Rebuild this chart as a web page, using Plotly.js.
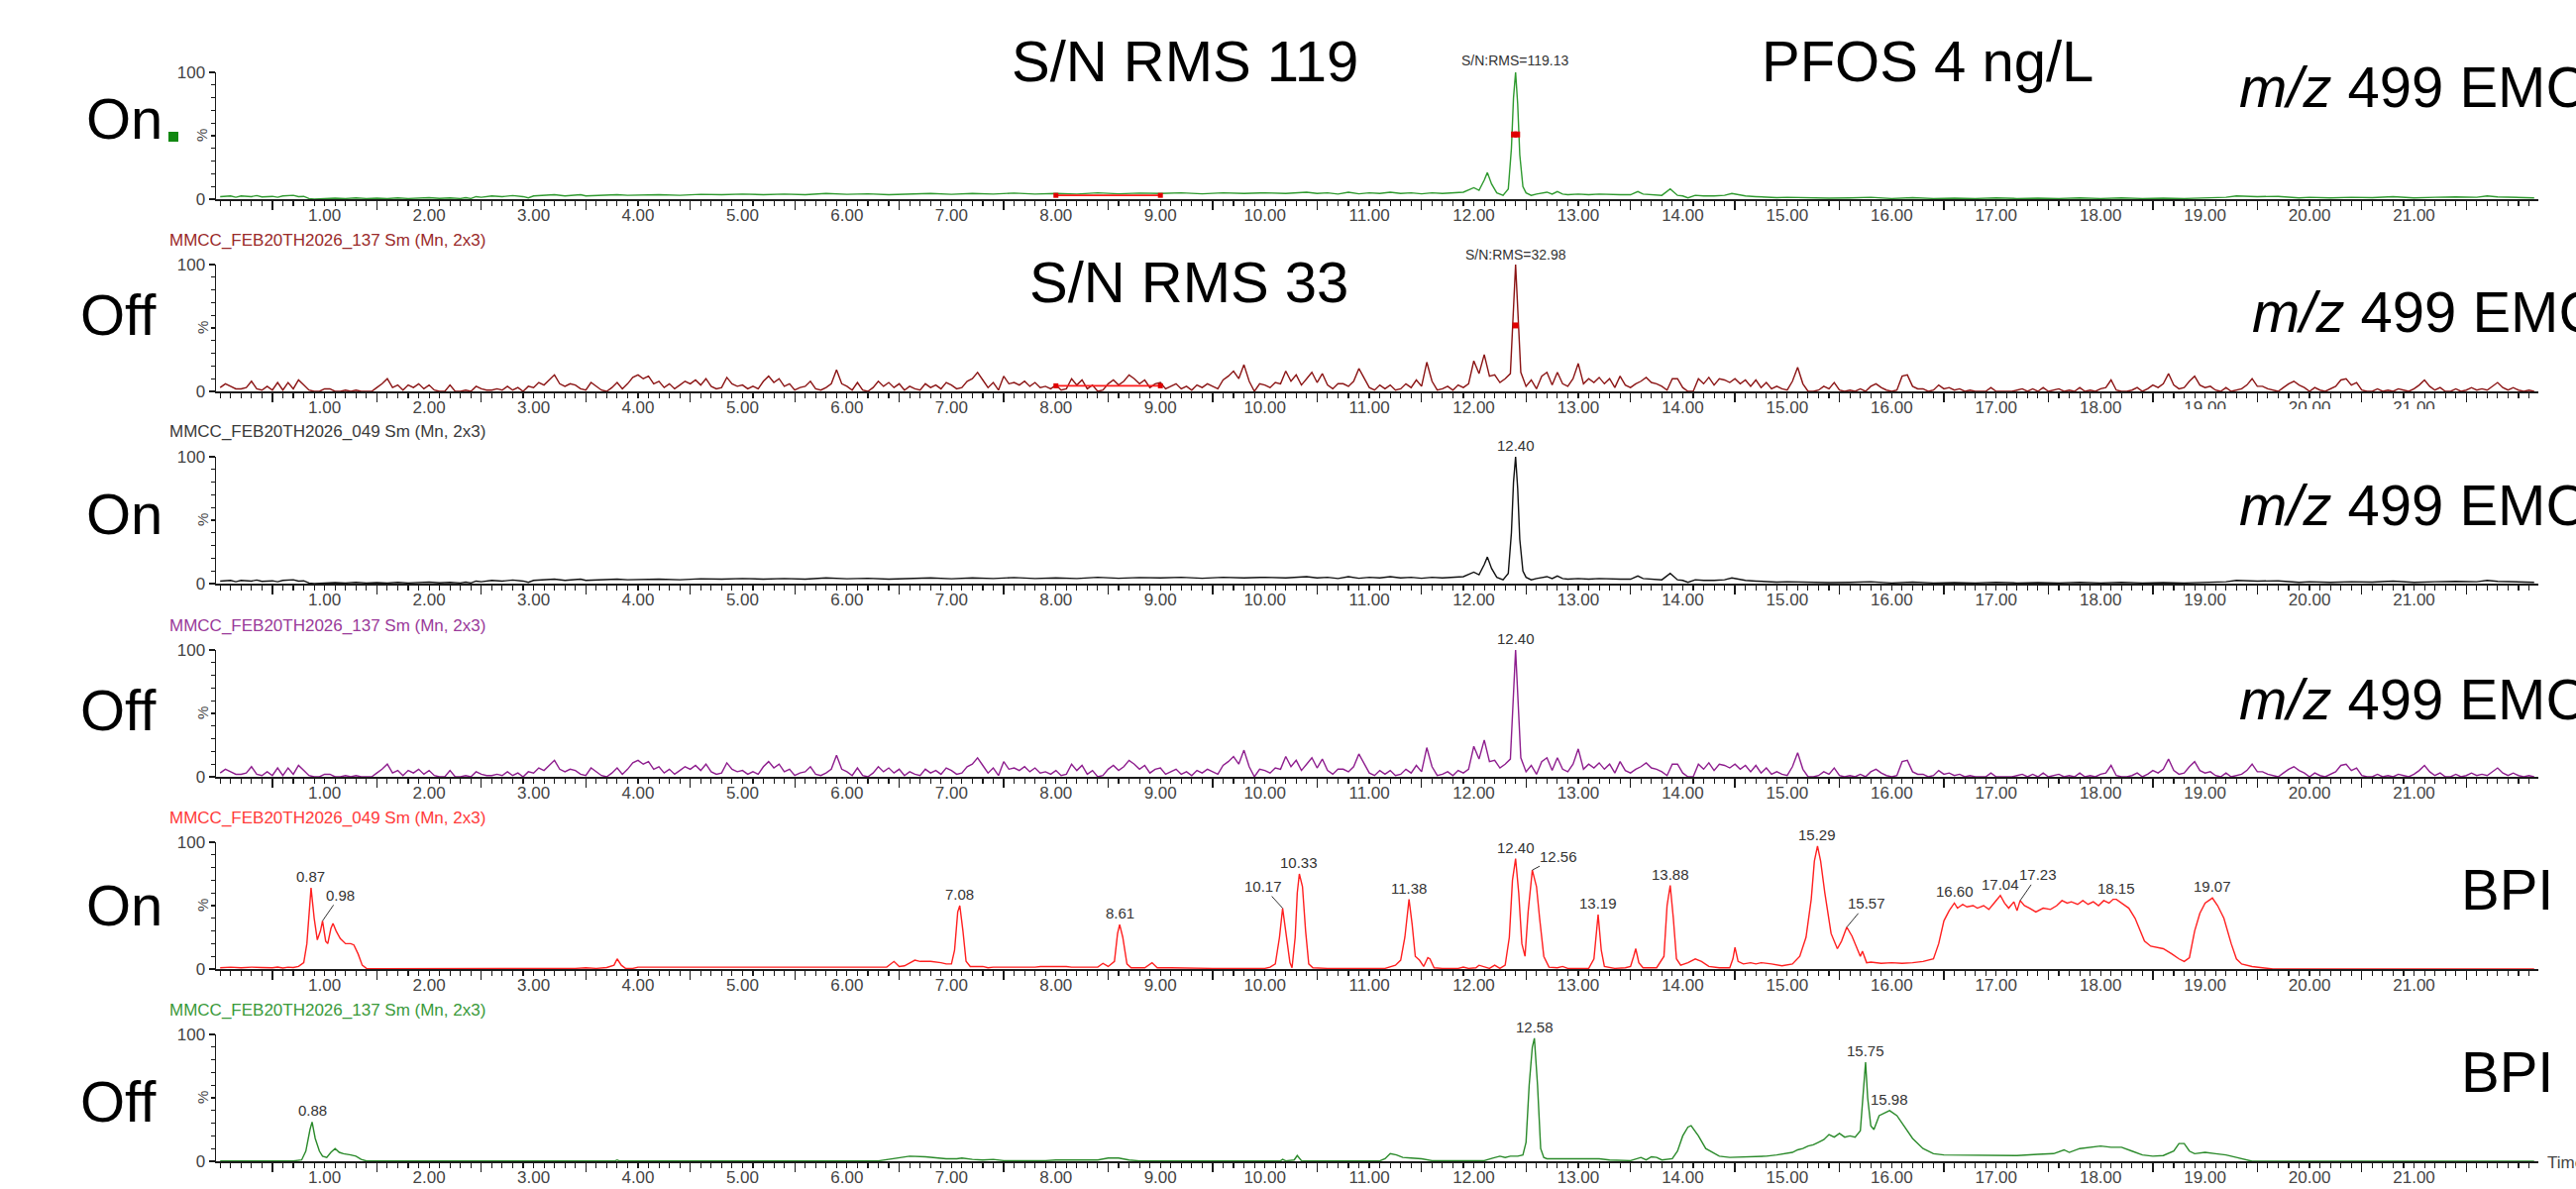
<!DOCTYPE html>
<html>
<head>
<meta charset="utf-8">
<script src="https://cdn.plot.ly/plotly-3.0.1.min.js"></script>
<style>html,body{margin:0;padding:0;background:#fff;}#chart{width:2600px;height:1200px;}</style>
</head>
<body>
<div id="chart"></div>
<script>
// ---------------- DATA ----------------
// m/z 499 EMC, ion source ON (MMCC_FEB20TH2026_049): retention time (min) / intensity (%)
const onEmcT = [0.0,0.1,0.15,0.2,0.3,0.35,0.4,0.5,0.55,0.6,0.7,0.75,0.8,0.85,0.9,
  1.0,1.1,1.2,1.3,1.4,1.5,1.6,1.7,1.8,1.9,2.0,2.1,2.2,2.3,
  2.35,2.4,2.45,2.5,2.6,2.7,2.8,2.9,2.95,3.0,3.1,3.2,3.3,3.4,3.45,3.5,3.6,3.7,3.8,3.9,
  4.0,4.2,4.4,4.6,4.8,5.0,5.2,5.4,5.6,5.8,6.0,6.2,6.4,6.6,6.8,7.0,7.2,7.4,7.6,7.8,8.0,8.2,8.4,8.6,8.8,9.0,9.2,9.4,9.6,9.8,
  10.0,10.2,10.4,10.5,10.6,10.7,10.8,10.9,11.0,11.1,11.2,11.3,11.4,11.5,11.6,11.7,11.8,11.9,
  12.0,12.05,12.1,12.13,12.17,12.22,12.28,12.33,12.36,12.38,12.4,12.42,12.44,12.47,12.5,12.55,12.6,12.7,12.75,12.8,12.85,12.9,
  13.0,13.1,13.2,13.3,13.4,13.5,13.57,13.62,13.7,13.8,13.88,13.95,14.0,14.05,14.12,14.2,14.3,14.4,14.47,14.55,14.6,14.7,14.8,14.9,
  15.0,15.2,15.4,15.6,15.8,16.0,16.2,16.4,16.6,16.8,17.0,17.2,17.4,17.6,17.8,18.0,18.2,18.4,18.6,18.8,19.0,
  19.2,19.3,19.5,19.7,19.9,20.0,20.2,20.4,20.6,20.8,21.0,21.2,21.4,21.6,21.7,21.8,22.0,22.15];
const onEmcI = [2,2.5,1.5,2.5,2,2.8,1.8,2.2,1.5,2.5,3,2,2.2,0.5,0,
  0.3,0.8,0.5,1,0.5,0.8,0.4,1,0.5,0.8,1.2,0.6,1,0.5,
  1.2,0.5,2,1.5,2.5,2,2.8,2,1,2.5,2.8,3.5,2.5,2.8,3.5,2.5,3,3.2,3.5,3,
  3.2,3.5,3,3.8,3.5,4,3.5,4,3.5,4.5,3.8,4.2,3.5,4,4.5,3.8,4.5,4,4.8,4,4.5,4,5,4.2,4.8,4.5,5,4.2,5,4.5,
  5,4.5,5.5,4.5,5,4,5.5,4.2,5,4.5,5.5,4.5,5,4.2,5,4.5,5,5.5,
  9,7,15,21,12,5,3,8,40,80,100,75,35,10,5,3,4,5.5,4,6,4,3.5,
  4,3.5,4,3.5,3.5,3.5,6,4,3.5,3,8,3,2.5,1,3,2.5,2.5,3,4.5,3,2.5,2,1.5,1.2,
  1.5,1,0.8,1,1.5,0.5,1.2,0.5,0.8,0.5,1,0.5,0.8,0.5,1,0.5,1,0.5,0.8,0.5,1,
  1.5,2.5,2,2.2,1,1.5,1,1.5,1.2,2,1,1.5,1.8,1.5,2.5,1.8,1.5,1];

// m/z 499 EMC, ion source OFF (MMCC_FEB20TH2026_137): intensity (%) every 0.05 min from 0.00
const offEmcT0 = 0, offEmcDt = 0.05;
const offEmcI = [
  3,6,4,2,2,3,8,2,1,4,1,7,1,7,2,9,5,1,0,0,
  2,2,0,0,1,0,1,0,0,0,3,6,10,3,5,1,5,3,6,2,
  5,1,0,0,5,0,0,1,0,4,2,1,1,2,1,4,1,3,0,4,
  3,7,5,9,13,6,4,6,5,2,1,7,4,1,0,3,7,2,6,11,
  13,10,12,6,8,3,6,2,5,8,6,9,5,10,4,2,3,11,6,4,
  5,2,4,2,8,12,7,10,4,6,1,3,4,8,2,1,3,6,17,6,
  4,1,7,1,0,3,8,4,7,3,6,1,4,2,1,6,3,5,2,7,
  5,2,3,8,10,15,9,3,7,1,12,6,7,5,8,4,7,3,4,2,
  5,1,2,10,5,9,2,5,0,1,6,9,5,8,13,10,6,9,3,6,
  7,2,4,6,2,4,1,5,3,6,4,2,9,12,16,10,21,8,0,6,
  5,3,7,6,16,8,13,5,10,15,7,14,5,2,6,6,4,8,18,10,
  3,1,5,2,5,1,2,6,3,9,4,23,8,1,2,4,1,5,3,6,
  24,14,29,12,13,7,10,14,100,15,4,9,2,12,15,5,15,6,4,10,
  22,6,10,7,11,6,10,3,12,5,3,6,8,11,7,6,4,1,10,10,
  3,0,0,10,6,11,5,10,9,7,10,6,9,4,9,3,7,2,4,2,
  1,8,19,6,0,0,1,4,2,7,1,0,1,0,2,0,4,6,3,1,
  0,1,12,13,4,2,2,0,1,5,2,3,1,2,0,1,0,0,0,3,
  0,0,0,0,1,2,0,2,0,3,0,1,2,0,1,0,3,0,1,0,
  2,3,9,1,0,0,1,3,0,2,5,3,6,14,5,2,3,8,12,5,
  3,4,1,0,3,0,1,2,5,10,4,4,2,1,0,3,6,8,5,3,
  0,3,1,0,2,4,9,10,5,7,1,0,0,2,0,1,0,2,1,0,
  2,5,9,4,1,3,0,0,2,0,1,3,1,2,1,4,7,3,1,3,
  1,0,1,0];

// BPI, ion source ON (049)
const onBpiT = [0.0,0.1,0.2,0.3,0.4,0.5,0.55,0.6,0.65,0.7,0.75,0.8,0.83,0.87,0.9,0.93,0.96,0.98,1.01,1.03,1.06,1.08,1.11,1.15,1.2,1.25,1.28,1.32,1.36,1.4,
  1.5,2.0,2.5,3.0,3.4,3.5,3.6,3.7,3.77,3.8,3.84,3.88,3.95,4.0,4.5,5.0,5.5,6.0,6.38,6.45,6.5,6.55,6.6,6.65,6.7,6.8,6.9,6.95,7.0,
  7.03,7.06,7.08,7.11,7.14,7.18,7.3,7.35,7.4,7.8,7.85,8.1,8.15,8.4,8.45,8.5,8.56,8.59,8.61,8.64,8.68,8.72,8.85,8.92,8.97,9.1,9.5,10.0,
  10.05,10.1,10.14,10.17,10.2,10.24,10.26,10.29,10.31,10.33,10.36,10.39,10.42,10.46,10.6,11.0,11.15,11.25,11.3,11.34,11.38,11.41,11.44,11.48,11.52,11.56,11.58,11.62,11.7,11.85,11.9,11.95,12.02,12.05,12.1,12.15,12.2,12.25,12.3,
  12.34,12.37,12.4,12.43,12.46,12.49,12.52,12.56,12.6,12.63,12.67,12.72,12.8,12.85,12.9,13.1,13.15,13.19,13.22,13.25,13.35,13.45,13.5,13.53,13.55,13.58,13.62,13.75,13.82,13.85,13.88,13.91,13.94,13.98,
  14.05,14.12,14.18,14.25,14.35,14.45,14.48,14.5,14.53,14.58,14.65,14.7,14.75,14.85,14.95,15.05,15.12,15.18,15.23,15.26,15.29,15.32,15.36,15.42,15.48,15.52,15.57,15.62,15.67,15.7,15.72,15.76,15.8,15.9,16.0,16.1,16.2,16.3,16.4,16.45,16.5,16.55,
  16.6,16.63,16.68,16.72,16.78,16.82,16.88,16.93,16.98,17.04,17.08,17.12,17.17,17.2,17.23,17.27,17.32,17.38,17.45,17.52,17.58,17.63,17.68,17.72,17.78,17.83,17.88,17.93,17.98,18.03,18.08,18.12,18.15,18.2,18.27,18.33,18.38,18.42,18.48,18.55,18.6,18.68,18.75,18.8,18.85,18.9,18.95,19.0,19.07,19.12,19.18,19.25,19.3,19.35,19.45,19.55,19.65,22.15];
const onBpiI = [1,1.5,1,1.5,1.2,1,1.5,0.8,1.5,1.2,2,5,20,64,40,23,30,38,22,20,32,36,30,24,20,20,19,12,3,0.5,
  0.3,0.3,0.3,0.3,0.5,1,0.5,1.2,3,8,3,0.5,0.5,1.5,1.5,1.5,1.5,1.5,1.5,6,2,2.5,4.5,7,6,6,5,4,4,
  15,45,50,30,6,2,2,1,1.5,1.5,2,2,1.5,1.5,4.5,2,6,28,35,25,4,1,1,5,1,1,0.5,0.5,
  1.5,4,25,48,30,5,1,25,60,75,65,30,4,1,0.5,0.5,0.5,3,7,25,55,35,10,7,2,9,8,1,0.5,0.5,1.5,0.5,1,3,1.5,0.5,3,0.5,3,
  25,70,87,60,20,10,45,78,65,40,10,1.5,1,2,0.5,0.5,8,43,15,2,0.5,1,2,10,16,5,1,1,10,50,66,40,8,3,
  5,8,6,2,1,1,8,17,6,4,5,4,5,4,2.5,4,10,25,55,85,97,85,60,28,16,22,33,26,15,10,14,5,5.5,4.5,5,4.5,5,6,8,20,38,46,
  52,48,51,49,50,48,50,47,52,58,52,48,53,46,54,50,48,45,48,47,50,54,52,53,51,54,51,53,50,54,52,55,55,52,48,40,30,22,18,17,16,12,8,6,9,30,44,52,56,50,40,20,8,4,2,1,0,0];

// BPI, ion source OFF (137)
const offBpiT = [0.0,0.7,0.78,0.82,0.86,0.88,0.91,0.95,0.98,1.02,1.06,1.1,1.14,1.18,1.25,1.3,1.35,1.4,2.7,3.78,3.8,3.82,6.3,6.4,6.5,6.6,6.75,6.85,6.95,7.05,7.1,7.2,7.3,7.4,7.5,7.9,8.0,8.4,8.5,8.6,8.7,8.8,
  10.15,10.17,10.2,10.28,10.31,10.35,11.1,11.15,11.2,11.26,11.32,11.4,11.5,11.6,12.1,12.18,12.25,12.3,12.35,12.42,12.47,12.5,12.53,12.56,12.58,12.61,12.64,12.67,12.7,13.2,13.3,13.5,13.6,13.65,13.7,13.75,13.8,13.9,13.95,
  14.0,14.05,14.08,14.15,14.22,14.28,14.35,14.45,14.6,14.8,14.9,15.0,15.05,15.1,15.15,15.2,15.25,15.3,15.35,15.4,15.45,15.5,15.55,15.6,15.65,15.7,15.73,15.75,15.77,15.8,15.83,15.88,15.93,15.98,16.05,16.12,16.2,16.3,16.4,16.5,16.8,17.0,17.2,17.4,17.55,17.65,17.7,17.8,17.9,18.0,18.1,18.2,18.3,18.4,18.5,18.6,18.7,18.75,18.8,18.85,18.9,19.0,19.1,19.2,19.3,19.4,19.45,22.15];
const offBpiI = [0.3,0.3,1,8,25,31,18,8,4,3,7,10,7,6,5,4,1.5,0.2,0.2,0.3,1,0.3,0.3,1.5,3,4,3.5,2.5,2,2,2.5,1.5,1,1.5,0.5,0.5,1,1,2.5,2.5,1,0.3,
  0.3,1.5,0.3,1,4.5,0.5,0.3,2,6,5,3,2.5,2,0.5,0.5,2.5,4,3,4,4,5,15,60,90,97,60,10,3,2,2,1,0.5,3,1,3.5,3,1,2,8,
  20,27,28,20,10,7,4,3,3.5,4,5,6,7,9,10,12,13,15,17,21,19,22,19,20,19,24,60,78,50,28,25,36,38,40,36,28,18,10,6,5,5,5,4.5,5.5,6,9,7,10,11,12,11,11,8,5,4,4.5,8,14,14,8,6,7,6,5,3,1,0,0];

// S/N noise window (min) and its drawn level (%)
const noiseWinT = [8.0, 9.0];
const noiseWinOnI = [3, 3];
const noiseWinOffI = [4.4, 4.4];
// half-height peak markers
const halfOnT = [12.385, 12.415], halfOnI = [51, 51];
const halfOffT = [12.40], halfOffI = [52];
const snLabels = ['S/N:RMS=119.13', 'S/N:RMS=32.98'];

// labelled peaks (retention times)
const onEmcPeaks = [12.40];
const offEmcPeaks = [12.40];
const onBpiPeaks = [0.87,0.98,7.08,8.61,10.17,10.33,11.38,12.40,12.56,13.19,13.88,15.29,15.57,16.60,17.04,17.23,18.15,19.07];
const offBpiPeaks = [0.88,12.58,15.75,15.98];

// axis tick labels
const tickVals = [1,2,3,4,5,6,7,8,9,10,11,12,13,14,15,16,17,18,19,20,21];
const tickText = ['1.00','2.00','3.00','4.00','5.00','6.00','7.00','8.00','9.00','10.00','11.00','12.00','13.00','14.00','15.00','16.00','17.00','18.00','19.00','20.00','21.00'];
const halfTickVals = [0.5,1.5,2.5,3.5,4.5,5.5,6.5,7.5,8.5,9.5,10.5,11.5,12.5,13.5,14.5,15.5,16.5,17.5,18.5,19.5,20.5,21.5];

const panelStates = ['On','Off','On','Off','On','Off'];
const panelTraceNames = ['m/z 499 EMC','m/z 499 EMC','m/z 499 EMC','m/z 499 EMC','BPI','BPI'];
const panelHeaders = [null,'MMCC_FEB20TH2026_137 Sm (Mn, 2x3)','MMCC_FEB20TH2026_049 Sm (Mn, 2x3)','MMCC_FEB20TH2026_137 Sm (Mn, 2x3)','MMCC_FEB20TH2026_049 Sm (Mn, 2x3)','MMCC_FEB20TH2026_137 Sm (Mn, 2x3)'];

// ---------------- LAYOUT HELPERS ----------------
const W = 2600, H = 1200;
const px = v => v / W;
const py = v => 1 - v / H;
const panelTop = [73, 267, 461, 656, 850, 1044];
const panelH = 128;
const plotX0 = 218, plotX1 = 2562;
const xRange = [-0.04, 22.19];
const lineColors = ['#2f9a2f', '#8b1414', '#111111', '#8e1e8e', '#ff2020', '#2a8a2a'];
const headerColors = [null, '#9a2a2a', '#3a3a3a', '#9a3a9a', '#ff3a3a', '#3a9a3a'];
const FONT = 'Arial, "Liberation Sans", sans-serif';
const axisCol = '#1a1a1a';
const labCol = '#444444';

const axName = (i, a) => i === 0 ? a : a + (i + 1);
const layout = {
  width: W, height: H,
  margin: {l: 0, r: 0, t: 0, b: 0},
  paper_bgcolor: '#ffffff', plot_bgcolor: '#ffffff',
  showlegend: false,
  annotations: [], shapes: []
};
const traces = [];

for (let i = 0; i < 6; i++) {
  const xa = axName(i, 'x'), ya = axName(i, 'y');
  const xKey = i === 0 ? 'xaxis' : 'xaxis' + (i + 1);
  const yKey = i === 0 ? 'yaxis' : 'yaxis' + (i + 1);
  layout[xKey] = {
    domain: [px(plotX0), px(plotX1)], anchor: ya, range: xRange,
    showline: true, linecolor: axisCol, linewidth: 1.5,
    ticks: 'outside', ticklen: 5, tickwidth: 1.2, tickcolor: axisCol,
    tickmode: 'array', tickvals: tickVals, ticktext: tickText,
    tickfont: {family: FONT, size: 17, color: labCol},
    ticklabelstandoff: -5,
    showgrid: false, zeroline: false, fixedrange: true,
    minor: {tickmode: 'linear', tick0: 0, dtick: 0.1, ticks: 'outside', ticklen: 5, tickwidth: 1.1, tickcolor: axisCol, showgrid: false}
  };
  // overlay axis for the long half-minute ticks
  const ovKey = 'xaxis' + (i + 7);
  layout[ovKey] = {
    overlaying: xa, anchor: ya, range: xRange, side: 'bottom',
    showline: false, ticks: 'outside', ticklen: 10, tickwidth: 1.3, tickcolor: axisCol,
    tickmode: 'array', tickvals: halfTickVals, showticklabels: false,
    showgrid: false, zeroline: false, fixedrange: true
  };
  traces.push({x: [], y: [], xaxis: 'x' + (i + 7), yaxis: ya, type: 'scatter', mode: 'lines', hoverinfo: 'skip'});

  const top = panelTop[i], bot = panelTop[i] + panelH;
  layout[yKey] = {
    domain: [py(bot), py(top)], anchor: xa, range: [0, 100],
    showline: true, linecolor: axisCol, linewidth: 1.5,
    ticks: 'outside', ticklen: 6, tickwidth: 1.2, tickcolor: axisCol,
    tickmode: 'array', tickvals: [0, 100], ticktext: ['0', '100'],
    tickfont: {family: FONT, size: 17, color: labCol},
    ticklabelstandoff: 0,
    showgrid: false, zeroline: false, fixedrange: true,
    minor: {tickmode: 'linear', tick0: 0, dtick: 10, ticks: 'outside', ticklen: 4, tickwidth: 1.1, tickcolor: axisCol, showgrid: false}
  };
  // "%" axis label
  layout.annotations.push({xref: 'paper', yref: ya, x: px(204), y: 50, text: '%', textangle: -90,
    showarrow: false, xanchor: 'center', yanchor: 'middle', font: {family: FONT, size: 15, color: labCol}});
  // header (file name)
  if (panelHeaders[i]) {
    layout.annotations.push({xref: 'paper', yref: 'paper', x: px(169), y: py(top - 25), text: panelHeaders[i],
      showarrow: false, xanchor: 'left', yanchor: 'middle', font: {family: FONT, size: 17, color: headerColors[i]}});
  }
}

// ---------------- TRACES ----------------
function line(i, obj) {
  return Object.assign({type: 'scatter', mode: 'lines', xaxis: axName(i, 'x'), yaxis: axName(i, 'y'),
    line: {color: lineColors[i], width: 1.4}, hoverinfo: 'skip', cliponaxis: true}, obj);
}
traces.push(line(0, {x: onEmcT, y: onEmcI}));
traces.push(line(1, {x0: offEmcT0, dx: offEmcDt, y: offEmcI}));
traces.push(line(2, {x: onEmcT, y: onEmcI}));
traces.push(line(3, {x0: offEmcT0, dx: offEmcDt, y: offEmcI}));
traces.push(line(4, {x: onBpiT, y: onBpiI}));
traces.push(line(5, {x: offBpiT, y: offBpiI}));
// noise windows and half-height markers (S/N calculation)
traces.push(line(0, {x: noiseWinT, y: noiseWinOnI, mode: 'lines+markers', line: {color: '#ff1a1a', width: 1.6}, marker: {symbol: 'square', size: 5, color: '#e00000'}}));
traces.push(line(1, {x: noiseWinT, y: noiseWinOffI, mode: 'lines+markers', line: {color: '#ff1a1a', width: 1.6}, marker: {symbol: 'square', size: 5, color: '#e00000'}}));
traces.push(line(0, {x: halfOnT, y: halfOnI, mode: 'markers', marker: {symbol: 'square', size: 6, color: '#e00000'}}));
traces.push(line(1, {x: halfOffT, y: halfOffI, mode: 'markers', marker: {symbol: 'square', size: 6, color: '#e00000'}}));

// ---------------- PEAK LABELS ----------------
function valueAt(tArr, iArr, t) {
  let best = 0, bd = 1e9;
  for (let k = 0; k < tArr.length; k++) { const d = Math.abs(tArr[k] - t); if (d < bd) { bd = d; best = k; } }
  return iArr[best];
}
const offEmcTimes = offEmcI.map((_, k) => offEmcT0 + k * offEmcDt); // lookup only
const leader = {'0.98': [18, -26], '10.17': [-20, -22], '12.56': [26, -14], '15.57': [20, -24], '17.23': [18, -26]};
function peakLabels(i, peaks, tArr, iArr) {
  peaks.forEach(t => {
    const key = t.toFixed(2);
    const h = valueAt(tArr, iArr, t);
    const base = {xref: axName(i, 'x'), yref: axName(i, 'y'), x: t, y: h, text: key,
      font: {family: FONT, size: 15, color: '#333333'}};
    if (leader[key] && i >= 4) {
      layout.annotations.push(Object.assign(base, {showarrow: true, arrowhead: 0, arrowwidth: 1, arrowcolor: '#333',
        ax: leader[key][0], ay: leader[key][1], standoff: 0}));
    } else {
      layout.annotations.push(Object.assign(base, {showarrow: false, yanchor: 'bottom', yshift: 1}));
    }
  });
}
peakLabels(2, onEmcPeaks, onEmcT, onEmcI);
peakLabels(3, offEmcPeaks, offEmcTimes, offEmcI);
peakLabels(4, onBpiPeaks, onBpiT, onBpiI);
peakLabels(5, offBpiPeaks, offBpiT, offBpiI);
// S/N labels
layout.annotations.push({xref: 'x', yref: 'y', x: 12.40, y: 100, text: snLabels[0], showarrow: false, yanchor: 'bottom', yshift: 2,
  font: {family: FONT, size: 14, color: '#333'}});
layout.annotations.push({xref: 'x2', yref: 'y2', x: 12.40, y: 100, text: snLabels[1], showarrow: false, yanchor: 'bottom', yshift: 0,
  font: {family: FONT, size: 14, color: '#333'}});

// ---------------- BIG SLIDE TEXT ----------------
const big = (text, x, y, xanchor) => layout.annotations.push({xref: 'paper', yref: 'paper', x: px(x), y: py(y), text: text,
  showarrow: false, xanchor: xanchor || 'center', yanchor: 'middle', font: {family: FONT, size: 58, color: '#000'}});
const stateX = [126, 119, 126, 119, 126, 119];
const stateY = [120, 317, 518, 716, 913, 1111];
panelStates.forEach((s, i) => big(s, stateX[i], stateY[i]));
big('S/N RMS 119', 1196, 62);
big('PFOS 4 ng/L', 1945, 62);
big('S/N RMS 33', 1200, 284);
const nameX = [2258, 2271, 2258, 2258, 2482, 2482];
const nameY = [87, 315, 509, 705, 897, 1081];
panelTraceNames.forEach((n, i) => {
  const t = n.startsWith('m/z') ? '<i>m/z</i>' + n.slice(3) : n;
  big(t, nameX[i], nameY[i], 'left');
});
layout.annotations.push({xref: 'paper', yref: 'paper', x: px(2569), y: py(1173), text: 'Time', showarrow: false,
  xanchor: 'left', yanchor: 'middle', font: {family: FONT, size: 17, color: labCol}});

// green marker square beside "On"
layout.shapes.push({type: 'rect', xref: 'paper', yref: 'paper', x0: px(170), x1: px(180), y0: py(143), y1: py(133),
  fillcolor: '#118811', line: {width: 0}});
// white box covering part of panel-2 tick labels (slide text box)
layout.shapes.push({type: 'rect', xref: 'paper', yref: 'paper', layer: 'above', x0: px(2195), x1: px(2600), y0: py(440), y1: py(413),
  fillcolor: '#ffffff', line: {width: 0}});

Plotly.newPlot('chart', traces, layout, {staticPlot: true, displayModeBar: false});
</script>
</body>
</html>
